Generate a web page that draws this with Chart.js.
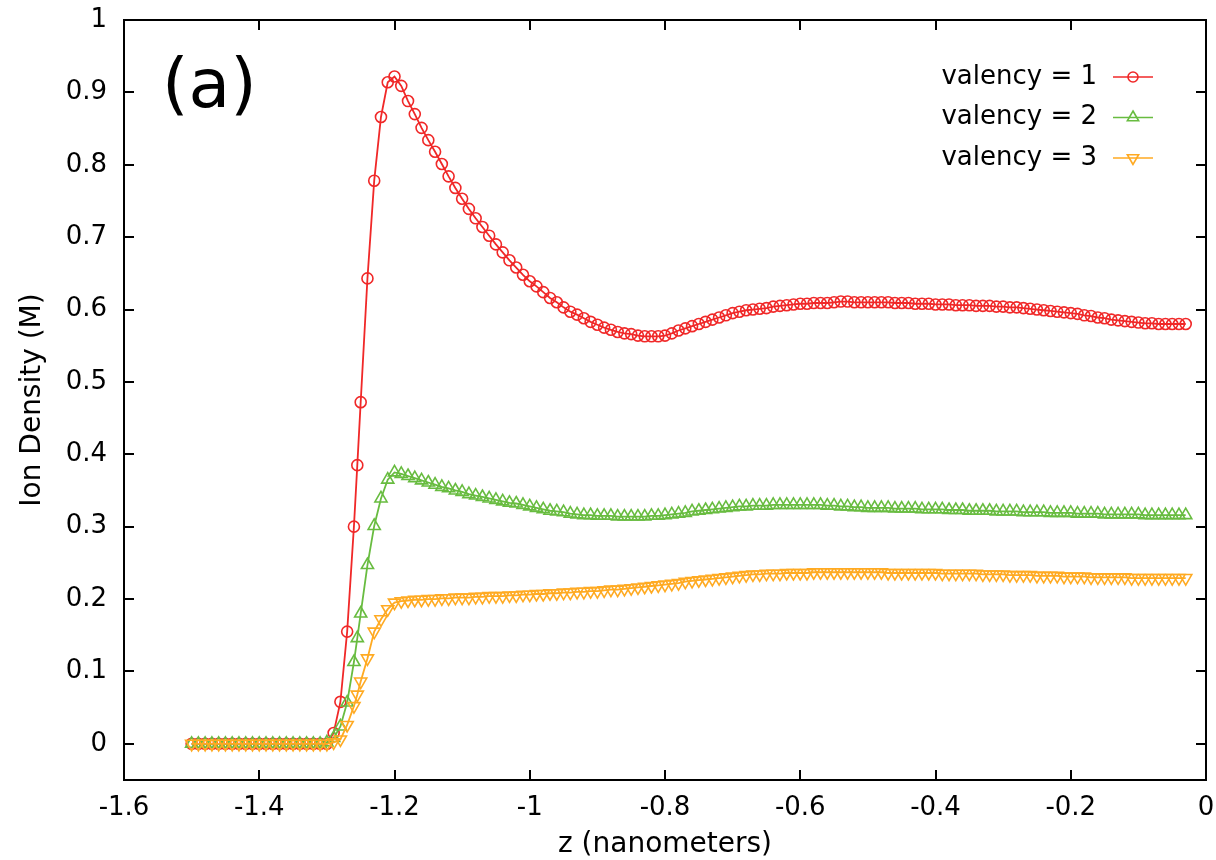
<!DOCTYPE html>
<html>
<head>
<meta charset="utf-8">
<title>Ion density profiles</title>
<script src="https://cdn.jsdelivr.net/npm/chart.js@4.4.1/dist/chart.umd.min.js"></script>
<style>
  html, body { margin: 0; padding: 0; background: #ffffff; }
  #wrap { width: 1216px; height: 860px; }
</style>
</head>
<body>
<div id="wrap"><canvas id="chart" width="1216" height="860"></canvas></div>
<script>
// Position along z (nm) of each sample
const zNm = [
  -1.50, -1.49, -1.48, -1.47, -1.46, -1.45, -1.44, -1.43, -1.42, -1.41,
  -1.40, -1.39, -1.38, -1.37, -1.36, -1.35, -1.34, -1.33, -1.32, -1.31,
  -1.30,
  -1.29, -1.28, -1.27, -1.26, -1.255, -1.25, -1.24, -1.23, -1.22, -1.21,
  -1.20,
  -1.19, -1.18, -1.17, -1.16, -1.15, -1.14, -1.13, -1.12, -1.11, -1.10,
  -1.09, -1.08, -1.07, -1.06, -1.05, -1.04, -1.03, -1.02, -1.01, -1.00,
  -0.99, -0.98, -0.97, -0.96, -0.95, -0.94, -0.93, -0.92, -0.91, -0.90,
  -0.89, -0.88, -0.87, -0.86, -0.85, -0.84, -0.83, -0.82, -0.81, -0.80,
  -0.79, -0.78, -0.77, -0.76, -0.75, -0.74, -0.73, -0.72, -0.71, -0.70,
  -0.69, -0.68, -0.67, -0.66, -0.65, -0.64, -0.63, -0.62, -0.61, -0.60,
  -0.59, -0.58, -0.57, -0.56, -0.55, -0.54, -0.53, -0.52, -0.51, -0.50,
  -0.49, -0.48, -0.47, -0.46, -0.45, -0.44, -0.43, -0.42, -0.41, -0.40,
  -0.39, -0.38, -0.37, -0.36, -0.35, -0.34, -0.33, -0.32, -0.31, -0.30,
  -0.29, -0.28, -0.27, -0.26, -0.25, -0.24, -0.23, -0.22, -0.21, -0.20,
  -0.19, -0.18, -0.17, -0.16, -0.15, -0.14, -0.13, -0.12, -0.11, -0.10,
  -0.09, -0.08, -0.07, -0.06, -0.05, -0.04, -0.03
];

// Ion density (M), valency = 1
const densityV1 = [
  0, 0, 0, 0, 0, 0, 0, 0, 0, 0,
  0, 0, 0, 0, 0, 0, 0, 0, 0, 0,
  0,
  0.015, 0.058, 0.155, 0.300, 0.385, 0.472, 0.643, 0.778, 0.866, 0.914,
  0.922,
  0.909, 0.888, 0.870, 0.851, 0.834, 0.818, 0.801, 0.784, 0.768, 0.753,
  0.739, 0.726, 0.714, 0.702, 0.690, 0.679, 0.668, 0.658, 0.648, 0.639,
  0.632, 0.624, 0.616, 0.610, 0.603, 0.597, 0.593, 0.588, 0.583, 0.579,
  0.575, 0.572, 0.569, 0.567, 0.566, 0.564, 0.563, 0.563, 0.563, 0.564,
  0.567, 0.571, 0.574,
  0.577, 0.580, 0.583, 0.586, 0.589, 0.592, 0.595,
  0.597, 0.599, 0.600, 0.601, 0.602, 0.604, 0.605, 0.606, 0.607, 0.608,
  0.608, 0.609, 0.609, 0.609, 0.610, 0.611, 0.611, 0.610, 0.610, 0.610,
  0.610, 0.610, 0.610, 0.609, 0.609, 0.609, 0.608, 0.608, 0.608, 0.607,
  0.607, 0.607, 0.606, 0.606, 0.606, 0.605, 0.605, 0.605, 0.604, 0.604,
  0.603, 0.603, 0.602, 0.601, 0.600, 0.599, 0.598, 0.597, 0.596, 0.595,
  0.594, 0.592, 0.591, 0.589, 0.588, 0.586, 0.585, 0.584, 0.583, 0.582,
  0.581, 0.581, 0.580, 0.580, 0.580, 0.580, 0.580
];

// Ion density (M), valency = 2
const densityV2 = [
  0, 0, 0, 0, 0, 0, 0, 0, 0, 0,
  0, 0, 0, 0, 0, 0, 0, 0, 0, 0,
  0.002,
  0.008, 0.024, 0.057, 0.113, 0.146, 0.180, 0.247, 0.301, 0.339, 0.365,
  0.375,
  0.373, 0.370, 0.367, 0.364, 0.361, 0.358, 0.355, 0.353, 0.350, 0.348,
  0.345, 0.343, 0.341, 0.339, 0.337, 0.335, 0.333, 0.332, 0.330, 0.328,
  0.326, 0.324, 0.322, 0.321, 0.320, 0.318, 0.317, 0.316, 0.316, 0.315,
  0.315, 0.315, 0.314, 0.314, 0.314, 0.314, 0.314, 0.315, 0.315, 0.316,
  0.317, 0.318, 0.319, 0.321, 0.322, 0.323, 0.324, 0.325, 0.326, 0.327,
  0.328, 0.328, 0.329, 0.329, 0.329, 0.330, 0.330, 0.330, 0.330, 0.330,
  0.330, 0.330, 0.330, 0.329, 0.329, 0.328, 0.328, 0.327, 0.327, 0.326,
  0.326, 0.326, 0.326, 0.325, 0.325, 0.325, 0.325, 0.324, 0.324, 0.324,
  0.324, 0.323, 0.323, 0.323, 0.322, 0.322, 0.322, 0.322, 0.321, 0.321,
  0.321, 0.321, 0.320, 0.320, 0.320, 0.320, 0.319, 0.319, 0.319, 0.319,
  0.318, 0.318, 0.318, 0.318, 0.317, 0.317, 0.317, 0.317, 0.317, 0.317,
  0.316, 0.316, 0.316, 0.316, 0.316, 0.316, 0.316
];

// Ion density (M), valency = 3
const densityV3 = [
  0, 0, 0, 0, 0, 0, 0, 0, 0, 0,
  0, 0, 0, 0, 0, 0, 0, 0, 0, 0,
  0,
  0.002, 0.006, 0.026, 0.052, 0.068, 0.086, 0.118, 0.155, 0.172, 0.186,
  0.195,
  0.197, 0.198, 0.199, 0.199, 0.200, 0.200, 0.201, 0.201, 0.202, 0.202,
  0.202, 0.203, 0.203, 0.204, 0.204, 0.204, 0.205, 0.205, 0.206, 0.206,
  0.207, 0.207, 0.208, 0.208, 0.209, 0.209, 0.210, 0.210, 0.211, 0.211,
  0.212, 0.213, 0.213, 0.214, 0.215, 0.216, 0.217, 0.218, 0.219, 0.220,
  0.221, 0.222, 0.224, 0.225, 0.226, 0.227, 0.228, 0.229, 0.230, 0.231,
  0.232, 0.233, 0.234, 0.234, 0.235, 0.235, 0.235, 0.236, 0.236, 0.236,
  0.236, 0.237, 0.237, 0.237, 0.237, 0.237, 0.237, 0.237, 0.237, 0.237,
  0.237, 0.237, 0.236, 0.236, 0.236, 0.236, 0.236, 0.236, 0.236, 0.236,
  0.235, 0.235, 0.235, 0.235, 0.235, 0.235, 0.234, 0.234, 0.234, 0.234,
  0.233, 0.233, 0.233, 0.233, 0.232, 0.232, 0.232, 0.232, 0.231, 0.231,
  0.231, 0.231, 0.230, 0.230, 0.230, 0.230, 0.230, 0.230, 0.229, 0.229,
  0.229, 0.229, 0.229, 0.229, 0.229, 0.229, 0.229
];

const seriesNames = ['valency = 1', 'valency = 2', 'valency = 3'];

const xTickValues = [-1.6, -1.4, -1.2, -1.0, -0.8, -0.6, -0.4, -0.2, 0];
const xTickLabels = ['-1.6', '-1.4', '-1.2', '-1', '-0.8', '-0.6', '-0.4', '-0.2', '0'];
const yTickValues = [0, 0.1, 0.2, 0.3, 0.4, 0.5, 0.6, 0.7, 0.8, 0.9, 1.0];
const yTickLabels = ['0', '0.1', '0.2', '0.3', '0.4', '0.5', '0.6', '0.7', '0.8', '0.9', '1'];

const FONT = '"DejaVu Sans", "Liberation Sans", Arial, sans-serif';
const RED = 'rgb(240, 40, 40)';
const GREEN = 'rgb(104, 188, 64)';
const ORANGE = 'rgb(255, 170, 34)';

function toPoints(values) {
  return zNm.map((z, i) => ({ x: z, y: values[i] }));
}

// Open marker drawn the same way as the plotted points
function drawMarker(ctx, style, rotation, radius, x, y, color) {
  ctx.save();
  ctx.strokeStyle = color;
  ctx.lineWidth = 1.6;
  ctx.beginPath();
  if (style === 'circle') {
    ctx.arc(x, y, radius, 0, Math.PI * 2);
  } else {
    let rad = (rotation || 0) * Math.PI / 180;
    for (let k = 0; k < 3; k++) {
      const px = x + Math.sin(rad) * radius;
      const py = y - Math.cos(rad) * radius;
      if (k === 0) ctx.moveTo(px, py); else ctx.lineTo(px, py);
      rad += 2 * Math.PI / 3;
    }
    ctx.closePath();
  }
  ctx.stroke();
  ctx.restore();
}

// Closed frame with inward tick marks on all four sides
const framePlugin = {
  id: 'frame',
  afterDraw(chart) {
    const { ctx, chartArea: a, scales } = chart;
    const len = 10;
    ctx.save();
    ctx.strokeStyle = '#000';
    ctx.lineWidth = 2;
    ctx.beginPath();
    scales.x.ticks.forEach(t => {
      const px = Math.round(scales.x.getPixelForValue(t.value));
      ctx.moveTo(px, a.bottom); ctx.lineTo(px, a.bottom - len);
      ctx.moveTo(px, a.top); ctx.lineTo(px, a.top + len);
    });
    scales.y.ticks.forEach(t => {
      const py = Math.round(scales.y.getPixelForValue(t.value));
      ctx.moveTo(a.left, py); ctx.lineTo(a.left + len, py);
      ctx.moveTo(a.right, py); ctx.lineTo(a.right - len, py);
    });
    ctx.stroke();
    ctx.strokeRect(a.left, a.top, a.right - a.left, a.bottom - a.top);
    ctx.restore();
  }
};

// Key in the upper right: label, line sample and marker for each series
const keyPlugin = {
  id: 'key',
  afterDraw(chart) {
    const ctx = chart.ctx;
    ctx.save();
    ctx.font = '26px ' + FONT;
    ctx.textAlign = 'right';
    ctx.textBaseline = 'middle';
    chart.data.datasets.forEach((ds, i) => {
      const y = 77 + i * 40.5;
      ctx.fillStyle = '#000';
      ctx.fillText(ds.label, 1097, y);
      ctx.strokeStyle = ds.borderColor;
      ctx.lineWidth = 1.6;
      ctx.beginPath();
      ctx.moveTo(1113, y);
      ctx.lineTo(1153, y);
      ctx.stroke();
      drawMarker(ctx, ds.pointStyle, ds.pointRotation, ds.pointRadius - 0.5, 1133, y, ds.borderColor);
    });
    ctx.restore();
  }
};

// Panel letter
const panelPlugin = {
  id: 'panel',
  afterDraw(chart) {
    const ctx = chart.ctx;
    ctx.save();
    ctx.font = '68px ' + FONT;
    ctx.fillStyle = '#000';
    ctx.textAlign = 'left';
    ctx.textBaseline = 'alphabetic';
    ctx.fillText('(a)', 162, 107);
    ctx.restore();
  }
};

function series(label, values, color, style, rotation, radius, order) {
  return {
    label: label,
    data: toPoints(values),
    borderColor: color,
    backgroundColor: 'rgba(0,0,0,0)',
    borderWidth: 1.8,
    pointStyle: style,
    pointRotation: rotation,
    pointRadius: radius,
    pointBorderWidth: 1.6,
    pointBorderColor: color,
    pointBackgroundColor: 'rgba(0,0,0,0)',
    tension: 0,
    fill: false,
    order: order
  };
}

new Chart(document.getElementById('chart').getContext('2d'), {
  type: 'line',
  data: {
    datasets: [
      series(seriesNames[0], densityV1, RED, 'circle', 0, 5.5, 2),
      series(seriesNames[1], densityV2, GREEN, 'triangle', 0, 7, 1),
      series(seriesNames[2], densityV3, ORANGE, 'triangle', 180, 7, 0)
    ]
  },
  options: {
    responsive: false,
    animation: false,
    events: [],
    layout: { padding: { top: 20, right: 10, left: 0, bottom: 0 } },
    plugins: {
      legend: { display: false },
      tooltip: { enabled: false }
    },
    scales: {
      x: {
        type: 'linear',
        min: -1.6,
        max: 0,
        afterBuildTicks(scale) { scale.ticks = xTickValues.map(v => ({ value: v })); },
        afterFit(scale) {
          scale.height = 80;
          scale.paddingLeft = 0;
          scale.paddingRight = 0;
        },
        grid: { display: false, drawTicks: false },
        border: { display: false },
        ticks: {
          padding: 13,
          color: '#000',
          font: { family: FONT, size: 26 },
          maxRotation: 0,
          autoSkip: false,
          callback: (v, i) => xTickLabels[i]
        },
        title: {
          display: true,
          text: 'z (nanometers)',
          color: '#000',
          font: { family: FONT, size: 28 },
          padding: { top: 0, bottom: -2 }
        }
      },
      y: {
        type: 'linear',
        min: -0.05,
        max: 1,
        afterBuildTicks(scale) { scale.ticks = yTickValues.map(v => ({ value: v })); },
        afterFit(scale) {
          scale.width = 124;
          scale.paddingTop = 0;
          scale.paddingBottom = 0;
        },
        grid: { display: false, drawTicks: false },
        border: { display: false },
        ticks: {
          padding: 17,
          color: '#000',
          font: { family: FONT, size: 26 },
          autoSkip: false,
          callback: (v, i) => yTickLabels[i]
        },
        title: {
          display: true,
          text: 'Ion Density (M)',
          color: '#000',
          font: { family: FONT, size: 28 },
          padding: { top: 16, bottom: 0 }
        }
      }
    }
  },
  plugins: [framePlugin, keyPlugin, panelPlugin]
});
</script>
</body>
</html>
